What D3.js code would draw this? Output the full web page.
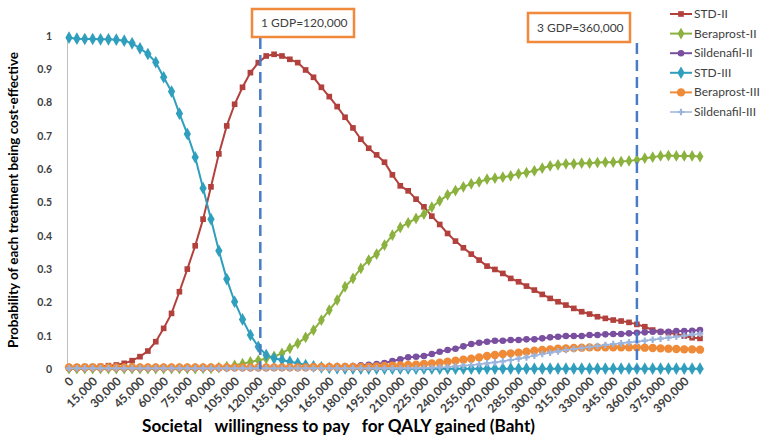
<!DOCTYPE html>
<html>
<head>
<meta charset="utf-8">
<script src="https://cdn.jsdelivr.net/npm/d3@7"></script>
<style>
  body { margin: 0; background: #fff; }
  text { font-family: Lato, "Open Sans", sans-serif; }
</style>
</head>
<body>
<div id="chart"></div>
<script>
// willingness-to-pay categories (Baht), one point every 5,000
const wtp = d3.range(0, 400001, 5000);

const xTicks = [0, 15000, 30000, 45000, 60000, 75000, 90000, 105000, 120000, 135000, 150000,
  165000, 180000, 195000, 210000, 225000, 240000, 255000, 270000, 285000, 300000, 315000,
  330000, 345000, 360000, 375000, 390000];
const yTicks = [0, 0.1, 0.2, 0.3, 0.4, 0.5, 0.6, 0.7, 0.8, 0.9, 1];

const seriesNames = ["STD-II", "Beraprost-II", "Sildenafil-II", "STD-III", "Beraprost-III", "Sildenafil-III"];

const stdII = [0.005, 0.006, 0.007, 0.007, 0.008, 0.010, 0.012, 0.017, 0.025, 0.037,
  0.054, 0.082, 0.122, 0.167, 0.232, 0.300, 0.370, 0.450, 0.547, 0.646,
  0.730, 0.795, 0.846, 0.890, 0.920, 0.940, 0.945, 0.940, 0.930, 0.920,
  0.898, 0.876, 0.846, 0.818, 0.788, 0.756, 0.724, 0.690, 0.663, 0.643,
  0.621, 0.583, 0.550, 0.535, 0.510, 0.487, 0.459, 0.434, 0.407, 0.384,
  0.364, 0.345, 0.327, 0.309, 0.299, 0.287, 0.272, 0.262, 0.249, 0.237,
  0.224, 0.212, 0.202, 0.192, 0.182, 0.172, 0.165, 0.157, 0.152, 0.147,
  0.144, 0.140, 0.134, 0.127, 0.117, 0.112, 0.109, 0.105, 0.099, 0.094, 0.092];

const beraprostII = [0.001, 0.001, 0.001, 0.001, 0.001, 0.001, 0.001, 0.001, 0.001, 0.001,
  0.001, 0.001, 0.001, 0.001, 0.001, 0.001, 0.001, 0.002, 0.002, 0.004,
  0.007, 0.011, 0.016, 0.021, 0.026, 0.031, 0.038, 0.047, 0.062, 0.077,
  0.095, 0.117, 0.147, 0.177, 0.207, 0.247, 0.272, 0.302, 0.327, 0.345,
  0.372, 0.402, 0.425, 0.439, 0.452, 0.465, 0.486, 0.505, 0.523, 0.536,
  0.547, 0.556, 0.562, 0.570, 0.573, 0.576, 0.580, 0.586, 0.590, 0.595,
  0.603, 0.610, 0.613, 0.616, 0.616, 0.618, 0.618, 0.620, 0.621, 0.621,
  0.623, 0.625, 0.628, 0.633, 0.636, 0.640, 0.641, 0.640, 0.640, 0.640, 0.638];

const sildenafilII = [0.002, 0.002, 0.002, 0.002, 0.002, 0.002, 0.002, 0.002, 0.002, 0.002,
  0.002, 0.002, 0.002, 0.002, 0.002, 0.002, 0.002, 0.002, 0.002, 0.002,
  0.002, 0.002, 0.002, 0.002, 0.002, 0.002, 0.003, 0.003, 0.003, 0.003,
  0.003, 0.004, 0.005, 0.006, 0.007, 0.008, 0.009, 0.011, 0.013, 0.015,
  0.018, 0.024, 0.029, 0.035, 0.037, 0.039, 0.045, 0.052, 0.057, 0.061,
  0.068, 0.075, 0.079, 0.082, 0.085, 0.085, 0.087, 0.087, 0.089, 0.089,
  0.092, 0.095, 0.097, 0.099, 0.099, 0.099, 0.102, 0.102, 0.104, 0.105,
  0.105, 0.107, 0.109, 0.110, 0.112, 0.112, 0.112, 0.114, 0.114, 0.115, 0.117];

const stdIII = [0.995, 0.992, 0.991, 0.991, 0.990, 0.990, 0.989, 0.986, 0.978, 0.963,
  0.946, 0.921, 0.876, 0.833, 0.767, 0.706, 0.636, 0.543, 0.450, 0.355,
  0.270, 0.202, 0.149, 0.102, 0.067, 0.042, 0.032, 0.027, 0.022, 0.017,
  0.012, 0.008, 0.005, 0.003, 0.002, 0.001, 0.001, 0.001, 0.001, 0.001,
  0.001, 0.001, 0.001, 0.001, 0.001, 0.001, 0.001, 0.001, 0.001, 0.001,
  0.001, 0.001, 0.001, 0.001, 0.001, 0.001, 0.001, 0.001, 0.001, 0.001,
  0.001, 0.001, 0.001, 0.001, 0.001, 0.001, 0.001, 0.001, 0.001, 0.001,
  0.001, 0.001, 0.001, 0.001, 0.001, 0.001, 0.001, 0.001, 0.001, 0.001, 0.001];

const beraprostIII = [0.005, 0.005, 0.005, 0.005, 0.005, 0.005, 0.005, 0.005, 0.005, 0.005,
  0.005, 0.005, 0.005, 0.005, 0.005, 0.005, 0.005, 0.005, 0.005, 0.005,
  0.005, 0.005, 0.005, 0.005, 0.005, 0.005, 0.005, 0.005, 0.005, 0.005,
  0.005, 0.006, 0.006, 0.006, 0.006, 0.006, 0.006, 0.006, 0.006, 0.008,
  0.009, 0.010, 0.011, 0.012, 0.013, 0.015, 0.017, 0.019, 0.022, 0.025,
  0.028, 0.031, 0.035, 0.039, 0.042, 0.045, 0.047, 0.049, 0.052, 0.055,
  0.057, 0.059, 0.061, 0.062, 0.063, 0.064, 0.065, 0.065, 0.065, 0.065,
  0.065, 0.065, 0.065, 0.064, 0.063, 0.062, 0.061, 0.060, 0.059, 0.059, 0.058];

const sildenafilIII = [0.002, 0.002, 0.002, 0.002, 0.002, 0.002, 0.002, 0.002, 0.002, 0.002,
  0.002, 0.002, 0.002, 0.002, 0.002, 0.002, 0.002, 0.002, 0.002, 0.002,
  0.002, 0.002, 0.002, 0.002, 0.002, 0.002, 0.002, 0.002, 0.002, 0.002,
  0.002, 0.002, 0.002, 0.002, 0.002, 0.002, 0.002, 0.002, 0.002, 0.002,
  0.002, 0.002, 0.002, 0.002, 0.002, 0.003, 0.004, 0.005, 0.006, 0.008,
  0.010, 0.012, 0.014, 0.017, 0.020, 0.023, 0.027, 0.031, 0.035, 0.040,
  0.045, 0.049, 0.053, 0.057, 0.060, 0.063, 0.066, 0.069, 0.072, 0.075,
  0.077, 0.080, 0.082, 0.085, 0.088, 0.091, 0.094, 0.097, 0.100, 0.103, 0.106];

const gdpLines = [120000, 360000];
const gdpLabels = ["1 GDP=120,000", "3 GDP=360,000"];

const series = [
  { name: seriesNames[0], values: stdII, color: "#b2403c", marker: "square", size: 32 },
  { name: seriesNames[1], values: beraprostII, color: "#8bb13f", marker: "diamond", size: 40 },
  { name: seriesNames[2], values: sildenafilII, color: "#7b4f9f", marker: "circle", size: 34 },
  { name: seriesNames[3], values: stdIII, color: "#2f9fbd", marker: "diamond", size: 46 },
  { name: seriesNames[4], values: beraprostIII, color: "#ee8a38", marker: "circle", size: 55 },
  { name: seriesNames[5], values: sildenafilIII, color: "#9bb4dd", marker: "plus", size: 24 }
];

const width = 765, height = 436;

const svg = d3.select("#chart")
  .append("svg")
  .attr("width", width)
  .attr("height", height);

const x = d3.scaleLinear()
  .domain([0, 400000])
  .range([69, 700]);

const y = d3.scaleLinear()
  .domain([0, 1])
  .range([369, 36]);

// Y axis
const yAxis = svg.append("g")
  .attr("transform", "translate(67,0)")
  .call(d3.axisLeft(y).tickValues(yTicks).tickSize(0).tickPadding(15)
    .tickFormat(d => (d === 0 || d === 1) ? String(d) : d.toFixed(1)));
yAxis.select(".domain").attr("stroke", "#bfbfbf");
yAxis.selectAll("text")
  .attr("fill", "#404040")
  .style("font-size", "10.5px")
  .style("font-weight", "bold");

// X axis
const xAxis = svg.append("g")
  .attr("transform", "translate(0,369)")
  .call(d3.axisBottom(x).tickValues(xTicks).tickSize(0).tickFormat(d3.format(",")));
xAxis.select(".domain").attr("stroke", "#bfbfbf").attr("d", "M67,0H704");
xAxis.selectAll("text")
  .attr("fill", "#404040")
  .attr("dy", null)
  .attr("y", 0)
  .attr("transform", "translate(5,13)rotate(-45)")
  .style("text-anchor", "end")
  .style("font-size", "12px")
  .style("font-weight", "bold");

// axis titles
svg.append("text")
  .attr("transform", "translate(18,200)rotate(-90)")
  .attr("text-anchor", "middle")
  .attr("fill", "#000")
  .attr("textLength", 296)
  .attr("lengthAdjust", "spacingAndGlyphs")
  .style("font-size", "13px")
  .style("font-weight", "bold")
  .text("Probability of each treatment being cost-effective");

svg.append("text")
  .attr("x", 142)
  .attr("y", 432)
  .attr("fill", "#000")
  .attr("textLength", 393)
  .attr("lengthAdjust", "spacingAndGlyphs")
  .style("white-space", "pre")
  .style("font-size", "16.5px")
  .style("font-weight", "bold")
  .text("Societal   willingness to pay   for QALY gained (Baht)");

// series lines + markers
const line = d3.line()
  .x((d, i) => x(wtp[i]))
  .y(d => y(d));

const symbolFor = s => {
  if (s.marker === "plus") return d3.symbol().type(d3.symbolCross).size(s.size)();
  const t = s.marker === "square" ? d3.symbolSquare : s.marker === "diamond" ? d3.symbolDiamond : d3.symbolCircle;
  return d3.symbol().type(t).size(s.size)();
};

series.forEach(s => {
  const g = svg.append("g");
  g.append("path")
    .attr("d", line(s.values))
    .attr("fill", "none")
    .attr("stroke", s.color)
    .attr("stroke-width", s.marker === "plus" ? 1.5 : 2);
  g.selectAll("path.pt")
    .data(s.values)
    .enter()
    .append("path")
    .attr("class", "pt")
    .attr("d", symbolFor(s))
    .attr("transform", (d, i) => "translate(" + x(wtp[i]) + "," + y(d) + ")")
    .attr("fill", s.color);
});

// GDP threshold lines and boxes
const boxes = [{ x: 252, y: 9, w: 102, h: 28 }, { x: 528, y: 13, w: 102, h: 29 }];
gdpLines.forEach((v, i) => {
  svg.append("line")
    .attr("x1", x(v) + (i === 0 ? 2 : 0))
    .attr("x2", x(v) + (i === 0 ? 2 : 0))
    .attr("y1", boxes[i].y + boxes[i].h + 1)
    .attr("y2", 369)
    .attr("stroke", "#4a7cc6")
    .attr("stroke-width", 2.5)
    .attr("stroke-dasharray", "11,6");
  svg.append("rect")
    .attr("x", boxes[i].x)
    .attr("y", boxes[i].y)
    .attr("width", boxes[i].w)
    .attr("height", boxes[i].h)
    .attr("fill", "#fff")
    .attr("stroke", "#f0893a")
    .attr("stroke-width", 2.5);
  svg.append("text")
    .attr("x", boxes[i].x + 9)
    .attr("y", boxes[i].y + boxes[i].h / 2 + 4)
    .attr("fill", "#404040")
    .style("font-size", "12px")
    .text(gdpLabels[i]);
});

// legend
const legend = svg.append("g");
series.forEach((s, i) => {
  const ly = 14 + i * 19.6;
  legend.append("line")
    .attr("x1", 670).attr("x2", 692)
    .attr("y1", ly).attr("y2", ly)
    .attr("stroke", s.color)
    .attr("stroke-width", s.marker === "plus" ? 1.5 : 2);
  legend.append("path")
    .attr("d", symbolFor(s))
    .attr("transform", "translate(681," + ly + ")")
    .attr("fill", s.color);
  legend.append("text")
    .attr("x", 694)
    .attr("y", ly + 4)
    .attr("fill", "#404040")
    .style("font-size", "12px")
    .text(s.name);
});
</script>
</body>
</html>
